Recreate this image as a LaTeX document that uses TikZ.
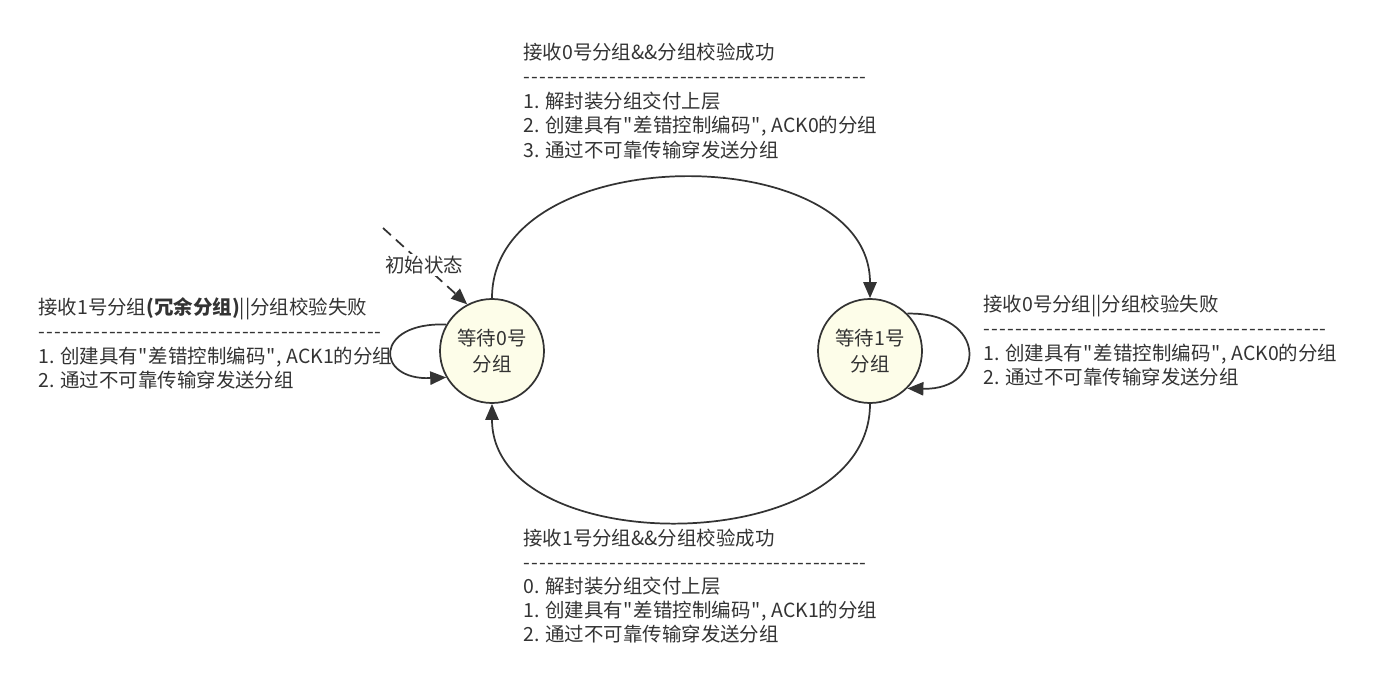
\documentclass[tikz,border=0pt]{standalone}
\usepackage{fontspec}
\newfontfamily\cjkfont{Noto Sans CJK SC}
\usetikzlibrary{arrows.meta}
\definecolor{ink}{HTML}{333333}
\definecolor{statefill}{HTML}{FDFDE9}
\newcommand{\dashrow}{\leavevmode\hbox to 258pt{\xleaders\hbox to 5.86pt{\hss-\hss}\hfill}}
\newcommand{\qq}{\kern0.6pt"\kern0.6pt}
\begin{document}
\begin{tikzpicture}[x=0.75pt,y=-0.75pt,
  font=\cjkfont\fontsize{14.6pt}{18.2pt}\selectfont, text=ink,
  state/.style={circle, draw=ink, line width=1.3pt, fill=statefill, minimum size=78pt,
    inner sep=0pt, align=center, font=\cjkfont\fontsize{14.6pt}{19.5pt}\selectfont},
  edge/.style={draw=ink, line width=1.3pt, -{Triangle[length=12pt,width=10pt]}},
  txt/.style={anchor=base west, inner sep=0pt}]
\useasboundingbox (0,0) rectangle (1378,685);

\node[state] (s0) at (492,351) {等待0号\\分组};
\node[state] (s1) at (870,351) {等待1号\\分组};

% top block
\node[txt] (t0) at (523,59.5) {接收0号分组\&\&分组校验成功};
\node[txt] (t1) at (523,83.9) {\dashrow};
\node[txt] (t2) at (523,108.3) {1. 解封装分组交付上层};
\node[txt] (t3) at (523,132.7) {2. 创建具有\qq 差错控制编码\qq, ACK0的分组};
\node[txt] (t4) at (523,157.1) {3. 通过不可靠传输穿发送分组};

% bottom block
\node[txt] (b0) at (523,545) {接收1号分组\&\&分组校验成功};
\node[txt] (b1) at (523,569.2) {\dashrow};
\node[txt] (b2) at (523,593.4) {0. 解封装分组交付上层};
\node[txt] (b3) at (523,617.6) {1. 创建具有\qq 差错控制编码\qq, ACK1的分组};
\node[txt] (b4) at (523,641.8) {2. 通过不可靠传输穿发送分组};

% left block
\node[txt] (l0) at (38,314.5) {接收1号分组\textbf{(冗余分组)}||分组校验失败};
\node[txt] (l1) at (38,338.8) {\dashrow};
\node[txt] (l2) at (38,363.1) {1. 创建具有\qq 差错控制编码\qq, ACK1的分组};
\node[txt] (l3) at (38,387.4) {2. 通过不可靠传输穿发送分组};

% right block
\node[txt] (r0) at (983,311.5) {接收0号分组||分组校验失败};
\node[txt] (r1) at (983,335.8) {\dashrow};
\node[txt] (r2) at (983,360.1) {1. 创建具有\qq 差错控制编码\qq, ACK0的分组};
\node[txt] (r3) at (983,384.4) {2. 通过不可靠传输穿发送分组};

% transitions
\draw[edge] (s0.north) .. controls +(0,-160) and +(0,-160) .. (s1.north);
\draw[edge] (s1.south) .. controls +(0,157) and +(0,157) .. (s0.south);
\draw[edge] (s0.150) .. controls +(-72,-3) and +(-72,3) .. (s0.210);
\draw[edge] (s1.45) .. controls +(80,-2) and +(80,2) .. (s1.-45);

% initial
\coordinate (init) at (383,228);
\draw[edge, dash pattern=on 8pt off 5pt] (init) -- (s0.118)
  node[pos=0.49, fill=white, inner sep=1.5pt, text=ink] (initlbl) {初始状态};
\end{tikzpicture}
\end{document}
